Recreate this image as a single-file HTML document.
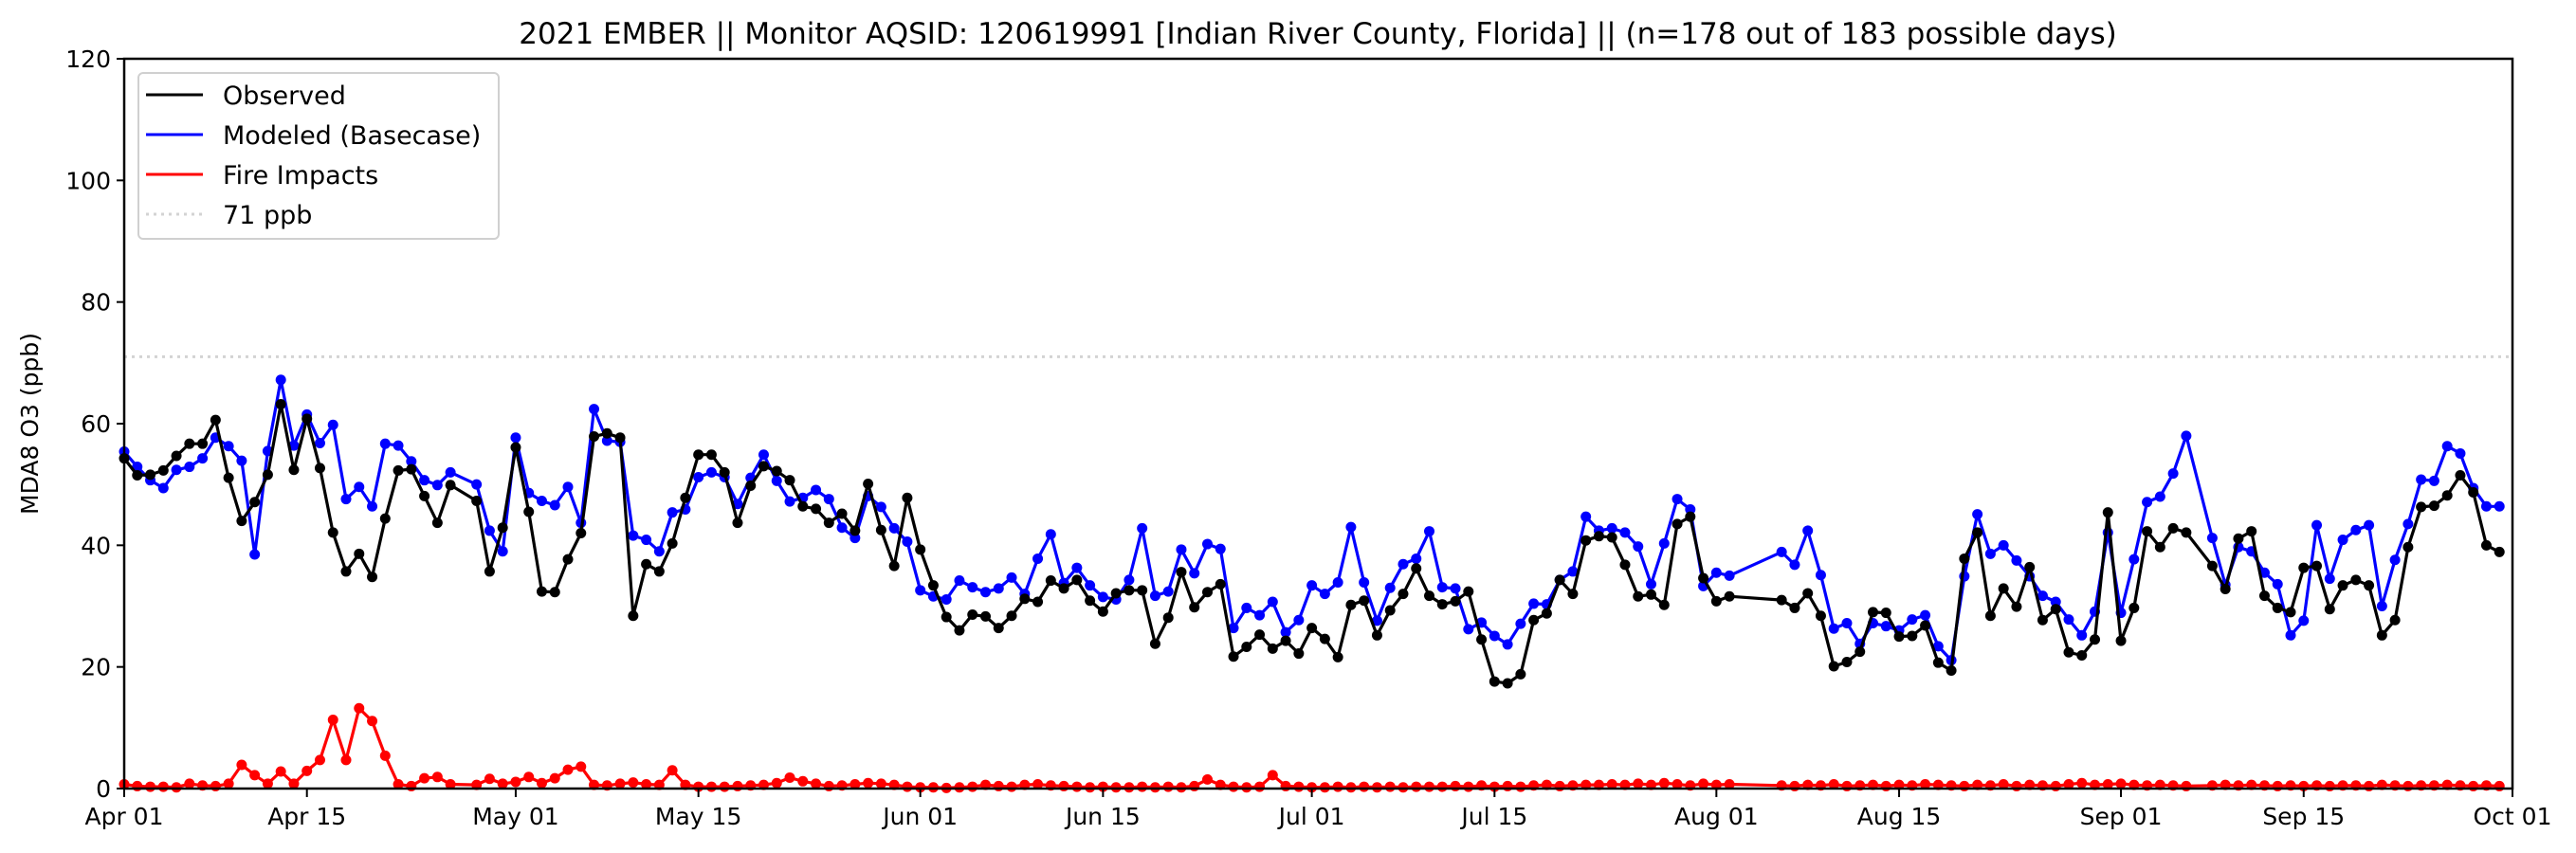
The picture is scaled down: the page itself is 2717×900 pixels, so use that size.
<!DOCTYPE html>
<html><head><meta charset="utf-8">
<style>
html,body{margin:0;padding:0;background:#fff;}
svg{display:block;font-family:"DejaVu Sans","Liberation Sans",sans-serif;}
</style></head>
<body>
<svg id="chart" width="2717" height="900" viewBox="0 0 2717 900" xmlns="http://www.w3.org/2000/svg">
<text x="1390" y="46" font-size="31" text-anchor="middle">2021 EMBER || Monitor AQSID: 120619991 [Indian River County, Florida] || (n=178 out of 183 possible days)</text>
<text x="0" y="0" font-size="25" text-anchor="middle" transform="translate(40,447) rotate(-90)">MDA8 O3 (ppb)</text>
<g id="grid"></g>
<g id="series"></g>
<g id="axes"></g>
<g>
<rect x="146" y="77" width="380" height="175" rx="5" fill="#fff" fill-opacity="0.85" stroke="#d0d0d0" stroke-width="2"/>
<line x1="154" y1="100" x2="214" y2="100" stroke="#000" stroke-width="3"/>
<text x="235" y="110" font-size="27">Observed</text>
<line x1="154" y1="142" x2="214" y2="142" stroke="#0000ff" stroke-width="3"/>
<text x="235" y="152" font-size="27">Modeled (Basecase)</text>
<line x1="154" y1="184" x2="214" y2="184" stroke="#ff0000" stroke-width="3"/>
<text x="235" y="194" font-size="27">Fire Impacts</text>
<line x1="154" y1="226" x2="214" y2="226" stroke="#d3d3d3" stroke-width="3" stroke-dasharray="3,5"/>
<text x="235" y="236" font-size="27">71 ppb</text>
</g>
</svg>
<script>
const observed=[54.3,51.5,51.6,52.3,54.7,56.7,56.7,60.6,51.1,44.0,47.1,51.6,63.2,52.4,60.8,52.7,42.1,35.7,38.6,34.8,44.4,52.3,52.5,48.1,43.7,49.9,null,47.3,35.7,42.9,56.1,45.5,32.4,32.3,37.7,42.0,57.9,58.4,57.7,28.4,36.9,35.7,40.3,47.8,54.9,54.9,52.0,
43.7,49.8,53.0,52.2,50.7,46.4,46.0,43.7,45.2,42.4,50.1,42.5,36.6,47.8,39.3,33.4,28.2,26.0,28.6,28.3,26.4,28.4,31.2,30.7,34.2,32.9,34.3,30.9,29.1,32.1,32.6,32.6,23.8,28.1,35.6,29.8,32.3,33.6,21.7,23.3,25.3,23.0,24.3,22.2,26.4,24.6,
21.6,30.2,30.9,25.2,29.3,32.0,36.2,31.7,30.3,30.8,32.4,24.5,17.6,17.3,18.8,27.7,28.8,34.3,32.0,40.8,41.5,41.3,36.8,31.6,31.9,30.2,43.5,44.7,34.6,30.8,31.6,null,null,null,31.0,29.7,32.1,28.4,20.1,20.8,22.5,29.0,28.9,25.0,25.1,26.8,
20.7,19.4,37.8,42.1,28.4,32.9,29.9,36.4,27.7,29.5,22.4,21.9,24.5,45.4,24.3,29.7,42.3,39.7,42.8,42.1,null,36.6,32.8,41.1,42.3,31.7,29.7,29.0,36.3,36.6,29.5,33.4,34.3,33.4,25.2,27.7,39.7,46.3,46.5,48.2,51.5,48.7,40.0,38.9];
const modeled=[55.4,52.9,50.7,49.4,52.4,52.9,54.3,57.7,56.3,53.9,38.5,55.5,67.2,56.4,61.5,56.8,59.8,47.6,49.6,46.4,56.7,56.4,53.8,50.7,49.9,52.0,null,50.0,42.4,39.0,57.7,48.6,47.3,46.6,49.6,43.7,62.4,57.2,57.0,41.6,40.9,39.0,45.4,45.9,51.2,52.0,51.2,
46.8,51.1,54.9,50.6,47.2,47.8,49.1,47.6,42.9,41.2,48.1,46.3,42.8,40.6,32.6,31.6,31.1,34.2,33.1,32.3,32.9,34.7,32.0,37.8,41.8,33.8,36.3,33.4,31.5,31.1,34.3,42.8,31.7,32.4,39.3,35.4,40.2,39.4,26.4,29.7,28.5,30.7,25.7,27.7,33.4,32.0,
33.9,43.0,33.9,27.6,33.0,36.9,37.8,42.3,33.1,32.9,26.2,27.3,25.1,23.7,27.1,30.4,30.3,34.3,35.7,44.7,42.4,42.8,42.1,39.8,33.6,40.3,47.6,45.9,33.3,35.5,35.0,null,null,null,38.9,36.8,42.4,35.1,26.3,27.2,23.8,27.2,26.7,26.0,27.8,28.5,
23.4,21.1,34.9,45.1,38.6,40.0,37.5,34.9,31.7,30.7,27.8,25.2,29.1,42.1,28.9,37.7,47.1,48.0,51.8,58.0,null,41.2,33.5,39.7,39.0,35.5,33.6,25.2,27.6,43.3,34.5,40.9,42.5,43.3,30.0,37.6,43.5,50.8,50.6,56.3,55.1,49.4,46.4,46.4];
const fire=[0.7,0.4,0.3,0.3,0.2,0.8,0.5,0.4,0.8,3.9,2.2,0.8,2.8,0.8,2.9,4.7,11.3,4.7,13.2,11.1,5.4,0.7,0.4,1.7,1.9,0.7,null,0.6,1.6,0.8,1.1,1.9,0.9,1.7,3.1,
3.6,0.6,0.5,0.8,1.0,0.7,0.6,3.0,0.6,0.3,0.3,0.3,0.4,0.5,0.6,0.9,1.8,1.2,0.8,0.4,0.5,0.7,0.9,0.8,0.6,0.3,
0.2,0.2,0.1,0.2,0.3,0.6,0.4,0.3,0.6,0.7,0.5,0.4,0.3,0.2,0.3,0.2,0.2,0.3,0.2,0.3,0.2,0.4,1.5,0.6,0.3,0.2,0.3,2.2,0.4,0.3,0.2,0.2,0.3,0.2,0.3,0.2,0.3,0.2,0.3,0.3,
0.3,0.4,0.3,0.5,0.3,0.4,0.3,0.5,0.6,0.4,0.5,0.6,0.6,0.7,0.6,0.8,0.6,0.9,0.7,0.5,0.8,0.6,0.7,null,null,null,0.5,0.4,0.6,0.5,0.7,0.4,0.5,0.6,0.4,0.6,0.5,0.7,0.6,0.5,0.4,0.6,0.5,0.7,0.4,0.6,0.5,0.4,0.7,0.9,0.6,0.7,0.8,0.6,0.5,0.6,0.5,0.4,null,0.5,0.6,0.5,0.6,0.5,0.4,0.5,0.4,0.5,0.4,0.5,0.5,0.4,0.6,0.5,0.4,0.5,0.5,0.6,0.5,0.4,0.5,0.4];
const threshold=[71];
const yTicks=[0,20,40,60,80,100,120];
const xTickDays=[0,14,30,44,61,75,91,105,122,136,153,167,183];
const xTickLabels=["Apr 01","Apr 15","May 01","May 15","Jun 01","Jun 15","Jul 01","Jul 15","Aug 01","Aug 15","Sep 01","Sep 15","Oct 01"];

const L=131,R=2650,T=62,B=832,NDAYS=183,YMAX=120;
const NS="http://www.w3.org/2000/svg";
function xs(d){return L+(R-L)*d/NDAYS;}
function ys(v){return B-(B-T)*v/YMAX;}
function mk(tag,attrs,parent){const e=document.createElementNS(NS,tag);for(const k in attrs)e.setAttribute(k,attrs[k]);parent.appendChild(e);return e;}
const grid=document.getElementById('grid'),series=document.getElementById('series'),axes=document.getElementById('axes');

threshold.forEach(t=>{
  const l=mk('line',{x1:L,x2:R,y1:ys(t),y2:ys(t),stroke:'#d3d3d3','stroke-width':3,'stroke-dasharray':'3,5'},grid);
  
  
});

function drawSeries(arr,color,name){
  const g=mk('g',{},series);
  
  
  let pts=[];
  arr.forEach((v,i)=>{if(v!==null)pts.push(xs(i).toFixed(1)+','+ys(v).toFixed(1));});
  const pl=mk('polyline',{points:pts.join(' '),fill:'none',stroke:color,'stroke-width':3.2,'stroke-linejoin':'round'},g);
  
  
  arr.forEach((v,i)=>{
    if(v===null)return;
    const c=mk('circle',{cx:xs(i),cy:ys(v),r:5.5,fill:color},g);
    
    
  });
}
drawSeries(fire,'#ff0000','fire-impacts');
drawSeries(modeled,'#0000ff','modeled');
drawSeries(observed,'#000000','observed');

const frame=mk('rect',{x:L,y:T,width:R-L,height:B-T,fill:'none',stroke:'#000','stroke-width':2.5},axes);


yTicks.forEach(v=>{
  const y=ys(v);
  const tk=mk('line',{x1:L-8,x2:L,y1:y,y2:y,stroke:'#000','stroke-width':2},axes);
  
  
  const t=mk('text',{x:L-14,y:y+9,'font-size':25,'text-anchor':'end'},axes);
  t.textContent=v;
  
  
});
xTickDays.forEach((d,i)=>{
  const x=xs(d);
  const tk=mk('line',{x1:x,x2:x,y1:B,y2:B+9,stroke:'#000','stroke-width':2},axes);
  
  
  const t=mk('text',{x:x,y:B+38,'font-size':25,'text-anchor':'middle'},axes);
  t.textContent=xTickLabels[i];
  
  
});
</script>
</body></html>
